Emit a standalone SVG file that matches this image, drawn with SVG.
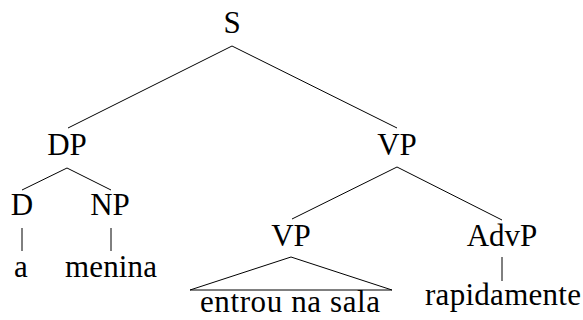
<svg xmlns="http://www.w3.org/2000/svg" width="583" height="320" viewBox="0 0 583 320">
  <style>
    .edge { stroke: #000; stroke-width: 1; fill: none; stroke-linecap: butt; }
  </style>
  <rect width="583" height="320" fill="#fff"/>

  <!-- tree branches -->
  <g id="connectors">
    <path class="edge" d="M232,46 L68,128"/>
    <path class="edge" d="M232,46 L397,128"/>
    <path class="edge" d="M67,168 L22,190"/>
    <path class="edge" d="M67,168 L111,190"/>
    <path class="edge" d="M22,228 L22,251"/>
    <path class="edge" d="M111,228 L111,251"/>
    <path class="edge" d="M397,167 L292,219"/>
    <path class="edge" d="M397,167 L502,220"/>
    <path class="edge" d="M502,257 L502,281"/>
    <path class="edge" d="M291,257 L190,290 L392,290 Z"/>
  </g>

  <g font-family="Liberation Serif, DejaVu Serif, serif" font-size="31" fill="#000" text-anchor="middle">
    <g id="node-S"><text x="232" y="33">S</text></g>
    <g id="node-DP"><text x="67" y="155">DP</text></g>
    <g id="node-VP-top"><text x="397" y="155">VP</text></g>
    <g id="node-D"><text x="22" y="215">D</text></g>
    <g id="node-NP"><text x="110" y="215">NP</text></g>
    <g id="node-VP-low"><text x="291" y="246">VP</text></g>
    <g id="node-AdvP"><text x="502" y="246">AdvP</text></g>
    <g id="leaf-a"><text x="21" y="277">a</text></g>
    <g id="leaf-menina"><text x="111" y="277" textLength="92">menina</text></g>
    <g id="leaf-entrou"><text x="290" y="312" textLength="180">entrou na sala</text></g>
    <g id="leaf-rapidamente"><text x="503" y="305" textLength="156">rapidamente</text></g>
  </g>
</svg>
